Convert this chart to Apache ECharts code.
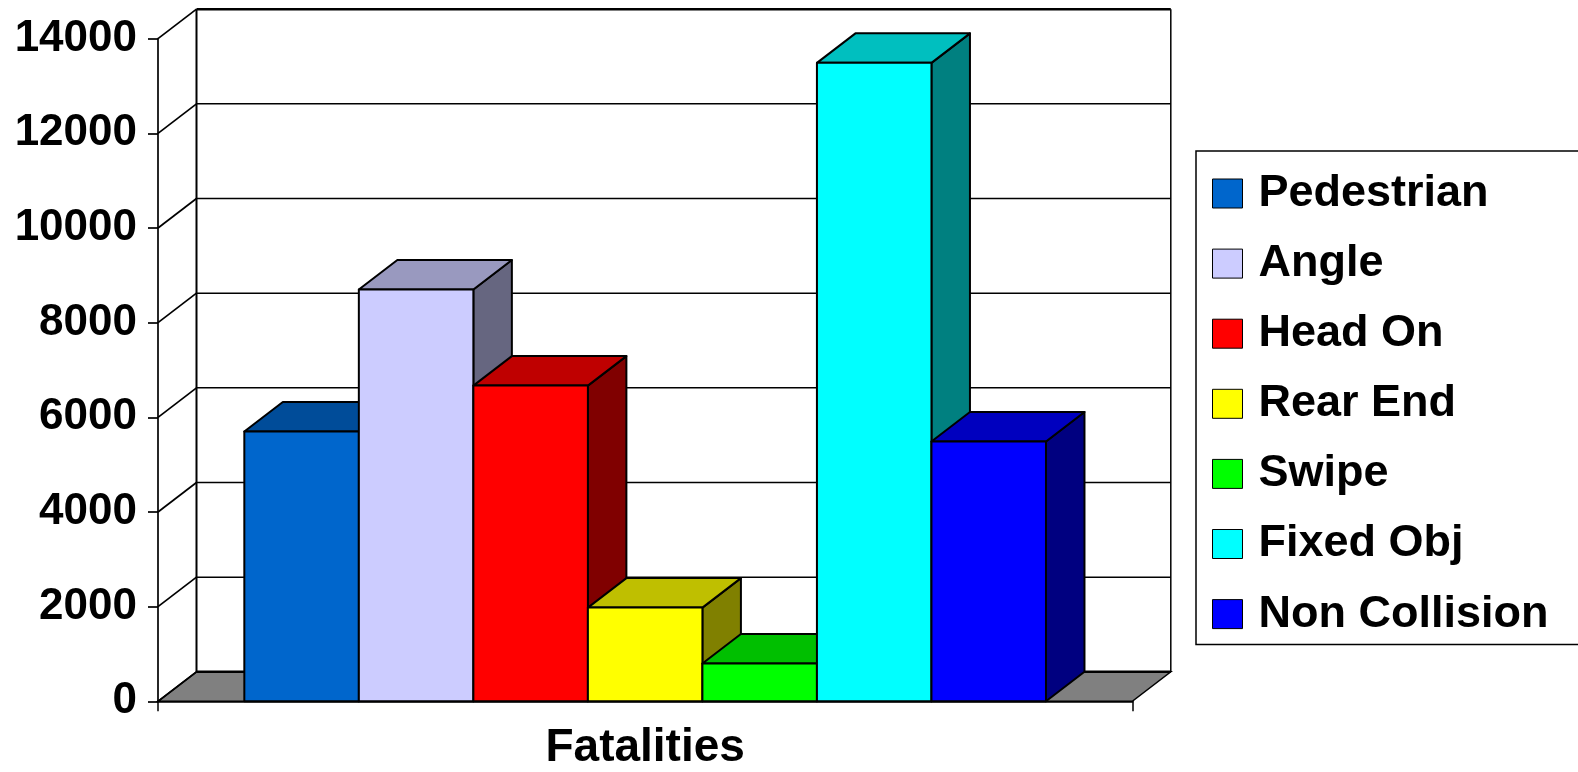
<!DOCTYPE html>
<html>
<head>
<meta charset="utf-8">
<script src="https://cdn.jsdelivr.net/npm/echarts@6/dist/echarts.min.js"></script>
<style>
  html, body { margin: 0; padding: 0; background: #fff; }
  #chart { width: 1578px; height: 772px; }
</style>
</head>
<body>
<div id="chart"></div>
<script>
// Fatalities by crash type
const category = ['Fatalities'];
const seriesNames = ['Pedestrian', 'Angle', 'Head On', 'Rear End', 'Swipe', 'Fixed Obj', 'Non Collision'];
const seriesValues = [5700, 8700, 6670, 1980, 800, 13490, 5490];
const yTicks = [0, 2000, 4000, 6000, 8000, 10000, 12000, 14000];

// front / top / side shades of each box
const frontColors = ['#0066CC', '#CCCCFF', '#FF0000', '#FFFF00', '#00FF00', '#00FFFF', '#0000FF'];
const topColors   = ['#004C99', '#9999BF', '#BF0000', '#BFBF00', '#00BF00', '#00BFBF', '#0000BF'];
const sideColors  = ['#003366', '#666680', '#800000', '#808000', '#008000', '#008080', '#000080'];

// 3D depth offset in pixels
const DX = 38.5, DY = 29.5;
const GROUP_RATIO = 0.8228;
const FONT = "'Liberation Sans', Arial, sans-serif";

const chart = echarts.init(document.getElementById('chart'), null, { renderer: 'canvas' });

// walls, floor and gridlines of the 3D box
function renderWalls(params, api) {
  const v = api.value(1);
  const p = api.coord([0, v]);
  const band = api.size([1, 0])[0];
  const x0 = p[0] - band / 2, x1 = p[0] + band / 2;
  const y = p[1];
  const top = yTicks[yTicks.length - 1];
  const children = [];
  if (params.dataIndex === 0) {
    const yTop = api.coord([0, top])[1] - DY;
    children.push({
      type: 'polygon',
      shape: { points: [[x0, y], [x1, y], [x1 + DX, y - DY], [x0 + DX, y - DY]] },
      style: { fill: '#808080', stroke: '#000', lineWidth: 1.5 }
    });
    children.push({
      type: 'line',
      shape: { x1: x0 + DX, y1: y - DY, x2: x1 + DX, y2: y - DY },
      style: { stroke: '#000', lineWidth: 2.5 }
    });
    children.push({
      type: 'line',
      shape: { x1: x0 + DX, y1: y - DY, x2: x0 + DX, y2: yTop },
      style: { stroke: '#000', lineWidth: 2 }
    });
    children.push({
      type: 'line',
      shape: { x1: x1 + DX, y1: y - DY, x2: x1 + DX, y2: yTop },
      style: { stroke: '#000', lineWidth: 1.5 }
    });
  } else {
    children.push({
      type: 'line',
      shape: { x1: x0 + DX, y1: y - DY, x2: x1 + DX, y2: y - DY },
      style: { stroke: '#000', lineWidth: v === top ? 2.5 : 1.5 }
    });
  }
  children.push({
    type: 'line',
    shape: { x1: x0, y1: y, x2: x0 + DX, y2: y - DY },
    style: { stroke: '#000', lineWidth: 1.7 }
  });
  return { type: 'group', children: children };
}

function makeBarRenderer(idx) {
  return function (params, api) {
    const pTop = api.coord([0, api.value(1)]);
    const pBase = api.coord([0, 0]);
    const band = api.size([1, 0])[0];
    const groupW = band * GROUP_RATIO;
    const w = groupW / seriesNames.length;
    const x = pTop[0] - groupW / 2 + idx * w;
    const yt = pTop[1], yb = pBase[1];
    const stroke = { stroke: '#000', lineWidth: 2, lineJoin: 'round' };
    return {
      type: 'group',
      children: [
        {
          type: 'polygon',
          shape: { points: [[x + w, yt], [x + w + DX, yt - DY], [x + w + DX, yb - DY], [x + w, yb]] },
          style: Object.assign({ fill: sideColors[idx] }, stroke)
        },
        {
          type: 'polygon',
          shape: { points: [[x, yt], [x + DX, yt - DY], [x + w + DX, yt - DY], [x + w, yt]] },
          style: Object.assign({ fill: topColors[idx] }, stroke)
        },
        {
          type: 'rect',
          shape: { x: x, y: yt, width: w, height: yb - yt },
          style: Object.assign({ fill: frontColors[idx] }, stroke)
        }
      ]
    };
  };
}

const series = [{
  name: '__walls',
  type: 'custom',
  renderItem: renderWalls,
  data: yTicks.map(function (v) { return [0, v]; }),
  z: 1,
  silent: true,
  tooltip: { show: false }
}];

seriesNames.forEach(function (name, i) {
  series.push({
    name: name,
    type: 'custom',
    renderItem: makeBarRenderer(i),
    data: [[0, seriesValues[i]]],
    itemStyle: { color: frontColors[i], borderColor: '#000', borderWidth: 1 },
    z: 2
  });
});

chart.setOption({
  animation: false,
  backgroundColor: '#fff',
  grid: { left: 158, right: 445.7, top: 38.7, bottom: 70.7 },
  xAxis: {
    type: 'category',
    data: category,
    boundaryGap: true,
    axisLine: { show: true, lineStyle: { color: '#000', width: 2.5 } },
    axisTick: { show: true, length: 10, lineStyle: { color: '#000', width: 1.5 } },
    axisLabel: {
      show: true, margin: 24, color: '#000',
      fontFamily: FONT, fontWeight: 'bold', fontSize: 46
    },
    splitLine: { show: false }
  },
  yAxis: {
    type: 'value',
    min: 0, max: 14000, interval: 2000,
    axisLine: { show: true, lineStyle: { color: '#000', width: 1.7 } },
    axisTick: { show: true, length: 10, inside: false, lineStyle: { color: '#000', width: 1.7 } },
    axisLabel: {
      show: true, margin: 21, color: '#000',
      fontFamily: FONT, fontWeight: 'bold', fontSize: 44,
      formatter: function (v) { return String(v); }
    },
    splitLine: { show: false }
  },
  legend: {
    orient: 'vertical',
    left: 1196,
    top: 151,
    data: seriesNames,
    icon: 'rect',
    itemWidth: 30,
    itemHeight: 29,
    itemGap: 25.1,
    padding: [20, 120, 8, 16],
    borderColor: '#000',
    borderWidth: 1.5,
    backgroundColor: '#fff',
    itemStyle: { borderColor: '#000', borderWidth: 1 },
    textStyle: {
      color: '#000', fontFamily: FONT, fontWeight: 'bold',
      fontSize: 45, lineHeight: 44, padding: [0, 0, 0, 11]
    }
  },
  series: series
});
</script>
</body>
</html>
